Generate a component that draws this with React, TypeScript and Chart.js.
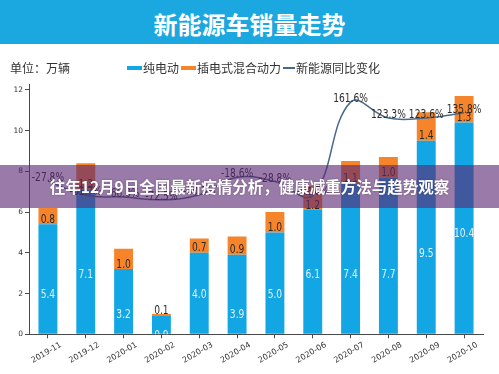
import React, { useEffect, useRef } from "react";
import { Chart, registerables } from "chart.js";

Chart.register(...registerables);

const categories = [
  "2019-11", "2019-12", "2020-01", "2020-02", "2020-03", "2020-04",
  "2020-05", "2020-06", "2020-07", "2020-08", "2020-09", "2020-10",
];
const bevSales = [5.4, 7.1, 3.2, 0.9, 4.0, 3.9, 5.0, 6.1, 7.4, 7.7, 9.5, 10.4];
const phevSales = [0.8, 1.3, 1.0, 0.1, 0.7, 0.9, 1.0, 1.2, 1.1, 1.0, 1.4, 1.3];
const yoyChange = [-27.8, -61.7, -66.0, -72.5, -60.3, -18.6, -28.8, -62.0, 161.6, 123.3, 123.6, 135.8];
const salesTicks = [0, 2, 4, 6, 8, 10, 12];

const BLUE = "#13a6e4";
const ORANGE = "#f5842b";
const LINE = "#4a6a8c";

const labelPlugin = {
  id: "valueLabels",
  afterDatasetsDraw(chart: any) {
    const ctx = chart.ctx;
    const xs = chart.scales.x;
    const ys = chart.scales.y;
    const y1 = chart.scales.y1;
    const area = chart.chartArea;
    const sx = 0.76;
    const drawText = (text: string, px: number, py: number, color: string) => {
      ctx.save();
      ctx.translate(px, py);
      ctx.scale(sx, 1);
      ctx.fillStyle = color;
      ctx.fillText(text, 0, 0);
      ctx.restore();
    };
    ctx.save();
    ctx.beginPath();
    ctx.rect(area.left, area.top, area.right - area.left, area.bottom - area.top);
    ctx.clip();
    ctx.font = "12px 'DejaVu Sans'";
    ctx.textAlign = "center";
    ctx.textBaseline = "alphabetic";
    bevSales.forEach((v, i) => {
      const px = xs.getPixelForValue(i);
      drawText(v.toFixed(1), px, ys.getPixelForValue(Math.floor(v / 2)) + 4.4, "rgba(236,246,253,0.95)");
      drawText(phevSales[i].toFixed(1), px, ys.getPixelForValue(v) - 1.5, "#2a2a2a");
    });
    ctx.restore();
    ctx.save();
    ctx.font = "12px 'DejaVu Sans'";
    ctx.textAlign = "center";
    ctx.textBaseline = "alphabetic";
    yoyChange.forEach((p, i) => {
      const px = xs.getPixelForValue(i);
      drawText(p.toFixed(1) + "%", px, y1.getPixelForValue(p), "#2b2b2b");
    });
    ctx.restore();
  },
};

function ChartCanvas() {
  const ref = useRef<HTMLCanvasElement | null>(null);
  useEffect(() => {
    if (!ref.current) return;
    const axisColor = "#4a4a4a";
    const chart = new Chart(ref.current, {
      type: "bar",
      data: {
        labels: categories,
        datasets: [
          {
            type: "line",
            label: "新能源同比变化",
            data: yoyChange,
            yAxisID: "y1",
            borderColor: LINE,
            borderWidth: 1.5,
            pointRadius: 0,
            tension: 0.4,
            fill: false,
            order: 0,
          } as any,
          {
            label: "纯电动",
            data: bevSales,
            backgroundColor: BLUE,
            borderWidth: 0,
            categoryPercentage: 1,
            barPercentage: 0.5,
            yAxisID: "y",
            order: 1,
          },
          {
            label: "插电式混合动力",
            data: phevSales,
            backgroundColor: ORANGE,
            borderWidth: 0,
            categoryPercentage: 1,
            barPercentage: 0.5,
            yAxisID: "y",
            order: 1,
          },
        ],
      },
      options: {
        responsive: false,
        animation: false,
        layout: { padding: { top: 84, right: 16, left: 0, bottom: 0 } },
        plugins: { legend: { display: false }, tooltip: { enabled: false } },
        scales: {
          x: {
            stacked: true,
            offset: true,
            grid: {
              display: true,
              drawOnChartArea: false,
              drawTicks: true,
              tickLength: 4,
              offset: false,
              color: axisColor,
            },
            border: { display: true, color: axisColor, width: 1 },
            ticks: {
              minRotation: 30,
              maxRotation: 30,
              autoSkip: false,
              labelOffset: 13,
              padding: 2,
              color: "#333",
              font: { family: "DejaVu Sans", size: 8 },
            },
            afterFit: (s: any) => {
              s.height = 374 - 334.3;
            },
          },
          y: {
            stacked: true,
            min: 0,
            max: 12.285,
            grid: {
              display: true,
              drawOnChartArea: false,
              drawTicks: true,
              tickLength: 4,
              color: axisColor,
            },
            border: { display: true, color: axisColor, width: 1 },
            ticks: {
              includeBounds: false,
              padding: 2,
              color: "#333",
              font: { family: "DejaVu Sans", size: 7.5 },
            },
            afterBuildTicks: (s: any) => {
              s.ticks = salesTicks.map((v) => ({ value: v }));
            },
            afterFit: (s: any) => {
              s.width = 29;
            },
          },
          y1: {
            display: false,
            position: "right",
            min: -395,
            max: 205,
          },
        },
      } as any,
      plugins: [labelPlugin],
    });
    return () => chart.destroy();
  }, []);
  return (
    <canvas
      ref={ref}
      width={499}
      height={374}
      style={{ position: "absolute", left: 0, top: 0, width: 499, height: 374, display: "block" }}
    />
  );
}

const cjk = "'Noto Sans CJK SC', 'Noto Sans', sans-serif";

export default function App() {
  return (
    <div
      style={{
        position: "fixed",
        left: 0,
        top: 0,
        width: 499,
        height: 374,
        background: "#ffffff",
        overflow: "hidden",
        fontFamily: cjk,
      }}
    >
      <ChartCanvas />
      <div
        style={{
          position: "absolute",
          left: 0,
          top: 0,
          width: 499,
          height: 44,
          background: "#1ba7e0",
          color: "#ffffff",
          fontWeight: 700,
          fontSize: 24,
          lineHeight: "48px",
          textAlign: "center",
          overflow: "hidden",
        }}
      >
        新能源车销量走势
      </div>
      <div
        style={{
          position: "absolute",
          left: 10,
          top: 60,
          fontSize: 12,
          lineHeight: "16px",
          color: "#333",
        }}
      >
        单位：万辆
      </div>
      <div
        style={{
          position: "absolute",
          left: 127,
          top: 60,
          height: 16,
          display: "flex",
          alignItems: "center",
          fontSize: 12,
          lineHeight: "16px",
          color: "#333",
          whiteSpace: "nowrap",
        }}
      >
        <span style={{ display: "inline-block", width: 15, height: 4, background: BLUE }} />
        <span style={{ marginLeft: 1 }}>纯电动</span>
        <span style={{ display: "inline-block", width: 15, height: 4, background: ORANGE, marginLeft: 2 }} />
        <span style={{ marginLeft: 1 }}>插电式混合动力</span>
        <span style={{ display: "inline-block", width: 12, height: 1.5, background: LINE, marginLeft: 2 }} />
        <span style={{ marginLeft: 1 }}>新能源同比变化</span>
      </div>
      <div
        style={{
          position: "absolute",
          left: 0,
          top: 165,
          width: 499,
          height: 43,
          background: "rgba(90, 40, 115, 0.62)",
          color: "#ffffff",
          fontWeight: 700,
          fontSize: 15.5,
          lineHeight: "43px",
          textAlign: "center",
          textShadow: "0 0 2px rgba(0,0,0,0.35)",
          whiteSpace: "nowrap",
        }}
      >
        往年12月9日全国最新疫情分析，健康减重方法与趋势观察
      </div>
    </div>
  );
}
